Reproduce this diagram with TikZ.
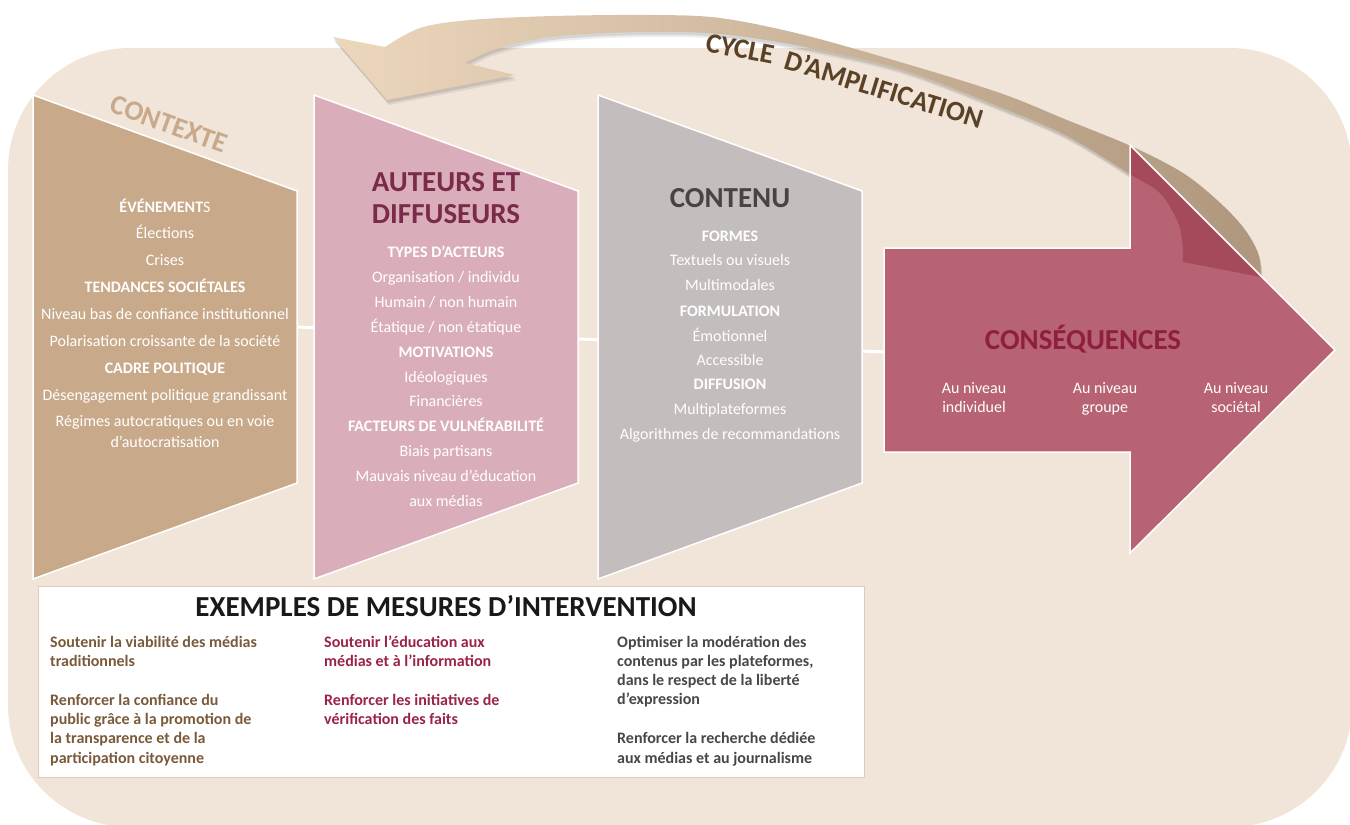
\documentclass[tikz,border=0pt]{standalone}
\usepackage{fontspec}
\setmainfont{Carlito}

\definecolor{bgbeige}{HTML}{F1E5DA}
\definecolor{ctxtan}{HTML}{C8A98A}
\definecolor{autpink}{HTML}{D9AEBA}
\definecolor{contgray}{HTML}{C3BDBD}
\definecolor{consred}{HTML}{B86373}
\definecolor{constitle}{HTML}{8E1F3F}
\definecolor{auttitle}{HTML}{7A2B49}
\definecolor{contitle}{HTML}{4A4343}
\definecolor{arclight}{HTML}{ECD6BC}
\definecolor{arcdark}{HTML}{AE977C}
\definecolor{arcover}{HTML}{A44A5B}
\definecolor{cycletxt}{HTML}{5B4226}
\definecolor{colbrown}{HTML}{7A5A3A}
\definecolor{colred}{HTML}{9A2446}
\definecolor{colgray}{HTML}{4B4646}
\definecolor{boxedge}{HTML}{E2CAB4}

% curved "amplification" arrow, head on the left, tail on the right
\newcommand\cyclearc{plot[smooth, tension=0.55] coordinates {(385,47) (420,28) (470,20) (553,16) (653,15) (720,18) (800,34) (900,62) (1000,93) (1067,120) (1133,147) (1183,173) (1217,200) (1243,227) (1258,253) (1261,277)}
  -- plot[smooth, tension=0.55] coordinates {(1183,262) (1182,240) (1177,220) (1160,193) (1133,176) (1067,136) (1000,107) (900,69) (800,46) (720,34) (653,32) (587,34) (537,39) (493,50) (465,63)}
  -- (515,75) -- (387,100) -- (333,37) -- cycle}
% block arrow for the consequences
\newcommand\consarrow{(884,248) -- (1130,248) -- (1130,145) -- (1335,350) -- (1130,553) -- (1130,452) -- (884,452) -- cycle}

\tikzset{
  panel/.style={draw=white, line width=1.5pt, line join=miter},
  txt/.style={inner sep=0pt, anchor=base, text=white, font=\fontsize{16}{19}\selectfont},
  hdr/.style={txt, font=\bfseries\fontsize{16}{19}\selectfont},
  bigtitle/.style={inner sep=0pt, anchor=base, font=\bfseries\fontsize{29}{32}\selectfont},
  measure/.style={inner sep=0pt, anchor=base west, font=\bfseries\fontsize{16}{19}\selectfont},
  cyclelabel/.style={inner sep=0pt, text=cycletxt, font=\bfseries\fontsize{28}{30}\selectfont},
}

\begin{document}
\begin{tikzpicture}[x=1pt,y=-1pt]
\useasboundingbox (0,0) rectangle (1350,825);

% backdrop
\fill[bgbeige, rounded corners=122pt] (8,48) rectangle (1352,827);

% thin flow line behind the panels
\coordinate (flowA) at (297,327);
\coordinate (flowB) at (884,352);
\draw[white, line width=3pt] (flowA) -- (flowB);

% the three slanted panels
\path[panel, fill=ctxtan] (33,95) -- (297,191) -- (297,483) -- (33,579) -- cycle;
\path[panel, fill=autpink] (314,95) -- (578,191) -- (578,483) -- (314,579) -- cycle;
\path[panel, fill=contgray] (598,95) -- (862,191) -- (862,483) -- (598,579) -- cycle;

% amplification cycle arrow with a soft shadow
\fill[black, opacity=0.07, shift={(2,5)}] \cyclearc;
\fill[black, opacity=0.10, shift={(1,3)}] \cyclearc;
\shade[left color=arclight, right color=arcdark] \cyclearc;

% consequences arrow, with the cycle tail seen through it
\fill[consred] \consarrow;
\begin{scope}
  \clip \consarrow;
  \fill[arcover] \cyclearc;
\end{scope}
\draw[white, line width=1.5pt, line join=miter] \consarrow;

\node[cyclelabel, rotate=-11] (cycleA) at (740,49) {CYCLE};
\node[cyclelabel, rotate=-17] (cycleB) at (884,89) {D’AMPLIFICATION};

% Contexte
\node[inner sep=0pt, rotate=-20, text=ctxtan, font=\bfseries\fontsize{28}{30}\selectfont] (ctxtitle) at (169,124) {CONTEXTE};
\node[txt] (ctx1) at (165,212) {\bfseries ÉVÉNEMENT\mdseries S};
\node[txt] (ctx2) at (165,238) {Élections};
\node[txt] (ctx3) at (165,265) {Crises};
\node[hdr] (ctx4) at (165,292) {TENDANCES SOCIÉTALES};
\node[txt] (ctx5) at (165,319) {Niveau bas de confiance institutionnel};
\node[txt] (ctx6) at (165,346) {Polarisation croissante de la société};
\node[hdr] (ctx7) at (165,373) {CADRE POLITIQUE};
\node[txt] (ctx8) at (165,400) {Désengagement politique grandissant};
\node[txt] (ctx9) at (165,426) {Régimes autocratiques ou en voie};
\node[txt] (ctx10) at (165,447) {d'autocratisation};

% Auteurs et diffuseurs
\node[bigtitle, text=auttitle] (auttitleA) at (446,191) {AUTEURS ET};
\node[bigtitle, text=auttitle] (auttitleB) at (446,223) {DIFFUSEURS};
\node[hdr] (aut1) at (446,257) {TYPES D’ACTEURS};
\node[txt] (aut2) at (446,282) {Organisation / individu};
\node[txt] (aut3) at (446,307) {Humain / non humain};
\node[txt] (aut4) at (446,332) {Étatique / non étatique};
\node[hdr] (aut5) at (446,357) {MOTIVATIONS};
\node[txt] (aut6) at (446,382) {Idéologiques};
\node[txt] (aut7) at (446,406) {Financières};
\node[hdr] (aut8) at (446,431) {FACTEURS DE VULNÉRABILITÉ};
\node[txt] (aut9) at (446,456) {Biais partisans};
\node[txt] (aut10) at (446,481) {Mauvais niveau d’éducation};
\node[txt] (aut11) at (446,506) {aux médias};

% Contenu
\node[bigtitle, text=contitle] (contitle) at (730,207) {CONTENU};
\node[hdr] (con1) at (730,241) {FORMES};
\node[txt] (con2) at (730,265.5) {Textuels ou visuels};
\node[txt] (con3) at (730,290.5) {Multimodales};
\node[hdr] (con4) at (730,316) {FORMULATION};
\node[txt] (con5) at (730,341) {Émotionnel};
\node[txt] (con6) at (730,365.5) {Accessible};
\node[hdr] (con7) at (730,389) {DIFFUSION};
\node[txt] (con8) at (730,414) {Multiplateformes};
\node[txt] (con9) at (730,439) {Algorithmes de recommandations};

% Conséquences
\node[bigtitle, text=constitle] (constitle) at (1083,349) {CONSÉQUENCES};
\node[txt] (cs1a) at (974,393) {Au niveau};
\node[txt] (cs1b) at (974,412) {individuel};
\node[txt] (cs2a) at (1105,393) {Au niveau};
\node[txt] (cs2b) at (1105,412) {groupe};
\node[txt] (cs3a) at (1236,393) {Au niveau};
\node[txt] (cs3b) at (1236,412) {sociétal};

% Intervention examples
\node[draw=boxedge, fill=white, line width=1pt, minimum width=826pt, minimum height=191pt,
      anchor=north west, inner sep=0pt] (box) at (38,586) {};
\node[bigtitle, text=black!90] (boxtitle) at (446,616) {EXEMPLES DE MESURES D’INTERVENTION};

\node[measure, text=colbrown] (m1) at (50,647) {Soutenir la viabilité des médias};
\node[measure, text=colbrown] (m2) at (50,666) {traditionnels};
\node[measure, text=colbrown] (m3) at (50,705) {Renforcer la confiance du};
\node[measure, text=colbrown] (m4) at (50,724) {public grâce à la promotion de};
\node[measure, text=colbrown] (m5) at (50,743.5) {la transparence et de la};
\node[measure, text=colbrown] (m6) at (50,763) {participation citoyenne};

\node[measure, text=colred] (n1) at (324,647) {Soutenir l’éducation aux};
\node[measure, text=colred] (n2) at (324,666) {médias et à l’information};
\node[measure, text=colred] (n3) at (324,705) {Renforcer les initiatives de};
\node[measure, text=colred] (n4) at (324,724) {vérification des faits};

\node[measure, text=colgray] (p1) at (617,647) {Optimiser la modération des};
\node[measure, text=colgray] (p2) at (617,666) {contenus par les plateformes,};
\node[measure, text=colgray] (p3) at (617,685) {dans le respect de la liberté};
\node[measure, text=colgray] (p4) at (617,704.5) {d’expression};
\node[measure, text=colgray] (p5) at (617,743.5) {Renforcer la recherche dédiée};
\node[measure, text=colgray] (p6) at (617,763) {aux médias et au journalisme};

\end{tikzpicture}
\end{document}
